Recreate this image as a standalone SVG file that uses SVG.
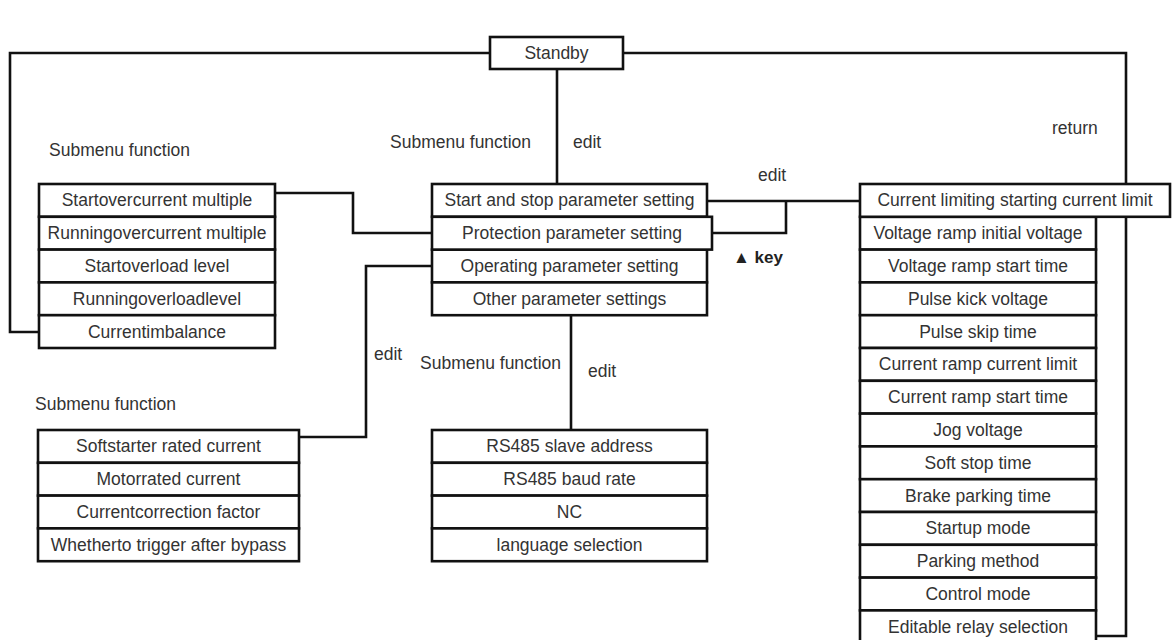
<svg xmlns="http://www.w3.org/2000/svg" width="1172" height="640" viewBox="0 0 1172 640">
<style>
  .box { fill: #fff; stroke: #111; stroke-width: 2.6; }
  .t { font-family: "Liberation Sans", Arial, sans-serif; font-size: 17.5px; fill: #333; text-anchor: middle; }
  .lbl { font-family: "Liberation Sans", Arial, sans-serif; font-size: 17.5px; fill: #333; }
  .conn { fill: none; stroke: #111; stroke-width: 2.6; }
  .key { font-family: "Liberation Sans", "DejaVu Sans", Arial, sans-serif; font-size: 17px; font-weight: bold; fill: #222; }
</style>
<rect width="1172" height="640" fill="#fff"/>

<g id="connectors">
  <path class="conn" d="M490,53 H10 V332 H39"/>
  <path class="conn" d="M623,53 H1126 V636 H1096"/>
  <path class="conn" d="M557,69 V184"/>
  <path class="conn" d="M707,201 H860"/>
  <path class="conn" d="M786,201 V233 H712"/>
  <path class="conn" d="M275,193 H353 V233 H432"/>
  <path class="conn" d="M432,266 H366 V437 H299"/>
  <path class="conn" d="M571,315 V430"/>
</g>

<g id="labels">
  <text class="lbl" x="49" y="156">Submenu function</text>
  <text class="lbl" x="390" y="148">Submenu function</text>
  <text class="lbl" x="573" y="148">edit</text>
  <text class="lbl" x="758" y="181">edit</text>
  <text class="lbl" x="1052" y="134">return</text>
  <text class="key" x="733" y="263">▲ key</text>
  <text class="lbl" x="374" y="360">edit</text>
  <text class="lbl" x="420" y="369">Submenu function</text>
  <text class="lbl" x="588" y="377">edit</text>
  <text class="lbl" x="35" y="410">Submenu function</text>
</g>

<g id="standby"><rect class="box" x="490" y="37" width="133" height="32"/><text class="t" x="556.5" y="59">Standby</text></g>

<g id="protection-menu">
  <g id="p1"><rect class="box" x="39" y="184" width="236" height="32.8"/><text class="t" x="157" y="206.4">Startovercurrent multiple</text></g>
  <g id="p2"><rect class="box" x="39" y="216.8" width="236" height="32.8"/><text class="t" x="157" y="239.2">Runningovercurrent multiple</text></g>
  <g id="p3"><rect class="box" x="39" y="249.6" width="236" height="32.8"/><text class="t" x="157" y="272">Startoverload level</text></g>
  <g id="p4"><rect class="box" x="39" y="282.4" width="236" height="32.8"/><text class="t" x="157" y="304.8">Runningoverloadlevel</text></g>
  <g id="p5"><rect class="box" x="39" y="315.2" width="236" height="32.8"/><text class="t" x="157" y="337.6">Currentimbalance</text></g>
</g>

<g id="operating-menu">
  <g id="o1"><rect class="box" x="38" y="430" width="261" height="32.8"/><text class="t" x="168.5" y="452.4">Softstarter rated current</text></g>
  <g id="o2"><rect class="box" x="38" y="462.8" width="261" height="32.8"/><text class="t" x="168.5" y="485.2">Motorrated current</text></g>
  <g id="o3"><rect class="box" x="38" y="495.6" width="261" height="32.8"/><text class="t" x="168.5" y="518">Currentcorrection factor</text></g>
  <g id="o4"><rect class="box" x="38" y="528.4" width="261" height="32.8"/><text class="t" x="168.5" y="550.8">Whetherto trigger after bypass</text></g>
</g>

<g id="main-menu">
  <g id="m1"><rect class="box" x="432" y="184" width="275" height="32.8"/><text class="t" x="569.5" y="206.4">Start and stop parameter setting</text></g>
  <g id="m3"><rect class="box" x="432" y="249.6" width="275" height="32.8"/><text class="t" x="569.5" y="272">Operating parameter setting</text></g>
  <g id="m4"><rect class="box" x="432" y="282.4" width="275" height="32.8"/><text class="t" x="569.5" y="304.8">Other parameter settings</text></g>
  <g id="m2"><rect class="box" x="432" y="216.8" width="280" height="32.8"/><text class="t" x="572" y="239.2">Protection parameter setting</text></g>
</g>

<g id="other-menu">
  <g id="x1"><rect class="box" x="432" y="430" width="275" height="32.8"/><text class="t" x="569.5" y="452.4">RS485 slave address</text></g>
  <g id="x2"><rect class="box" x="432" y="462.8" width="275" height="32.8"/><text class="t" x="569.5" y="485.2">RS485 baud rate</text></g>
  <g id="x3"><rect class="box" x="432" y="495.6" width="275" height="32.8"/><text class="t" x="569.5" y="518">NC</text></g>
  <g id="x4"><rect class="box" x="432" y="528.4" width="275" height="32.8"/><text class="t" x="569.5" y="550.8">language selection</text></g>
</g>

<g id="startstop-menu">
  <g id="s2"><rect class="box" x="860" y="216.8" width="236" height="32.8"/><text class="t" x="978" y="239.2">Voltage ramp initial voltage</text></g>
  <g id="s3"><rect class="box" x="860" y="249.6" width="236" height="32.8"/><text class="t" x="978" y="272">Voltage ramp start time</text></g>
  <g id="s4"><rect class="box" x="860" y="282.4" width="236" height="32.8"/><text class="t" x="978" y="304.8">Pulse kick voltage</text></g>
  <g id="s5"><rect class="box" x="860" y="315.2" width="236" height="32.8"/><text class="t" x="978" y="337.6">Pulse skip time</text></g>
  <g id="s6"><rect class="box" x="860" y="348" width="236" height="32.8"/><text class="t" x="978" y="370.4">Current ramp current limit</text></g>
  <g id="s7"><rect class="box" x="860" y="380.8" width="236" height="32.8"/><text class="t" x="978" y="403.2">Current ramp start time</text></g>
  <g id="s8"><rect class="box" x="860" y="413.6" width="236" height="32.8"/><text class="t" x="978" y="436">Jog voltage</text></g>
  <g id="s9"><rect class="box" x="860" y="446.4" width="236" height="32.8"/><text class="t" x="978" y="468.8">Soft stop time</text></g>
  <g id="s10"><rect class="box" x="860" y="479.2" width="236" height="32.8"/><text class="t" x="978" y="501.6">Brake parking time</text></g>
  <g id="s11"><rect class="box" x="860" y="512" width="236" height="32.8"/><text class="t" x="978" y="534.4">Startup mode</text></g>
  <g id="s12"><rect class="box" x="860" y="544.8" width="236" height="32.8"/><text class="t" x="978" y="567.2">Parking method</text></g>
  <g id="s13"><rect class="box" x="860" y="577.6" width="236" height="32.8"/><text class="t" x="978" y="600">Control mode</text></g>
  <g id="s14"><rect class="box" x="860" y="610.4" width="236" height="32.8"/><text class="t" x="978" y="632.8">Editable relay selection</text></g>
  <g id="s1"><rect class="box" x="860" y="184" width="310" height="32.8"/><text class="t" x="1015" y="206.4">Current limiting starting current limit</text></g>
</g>
</svg>
